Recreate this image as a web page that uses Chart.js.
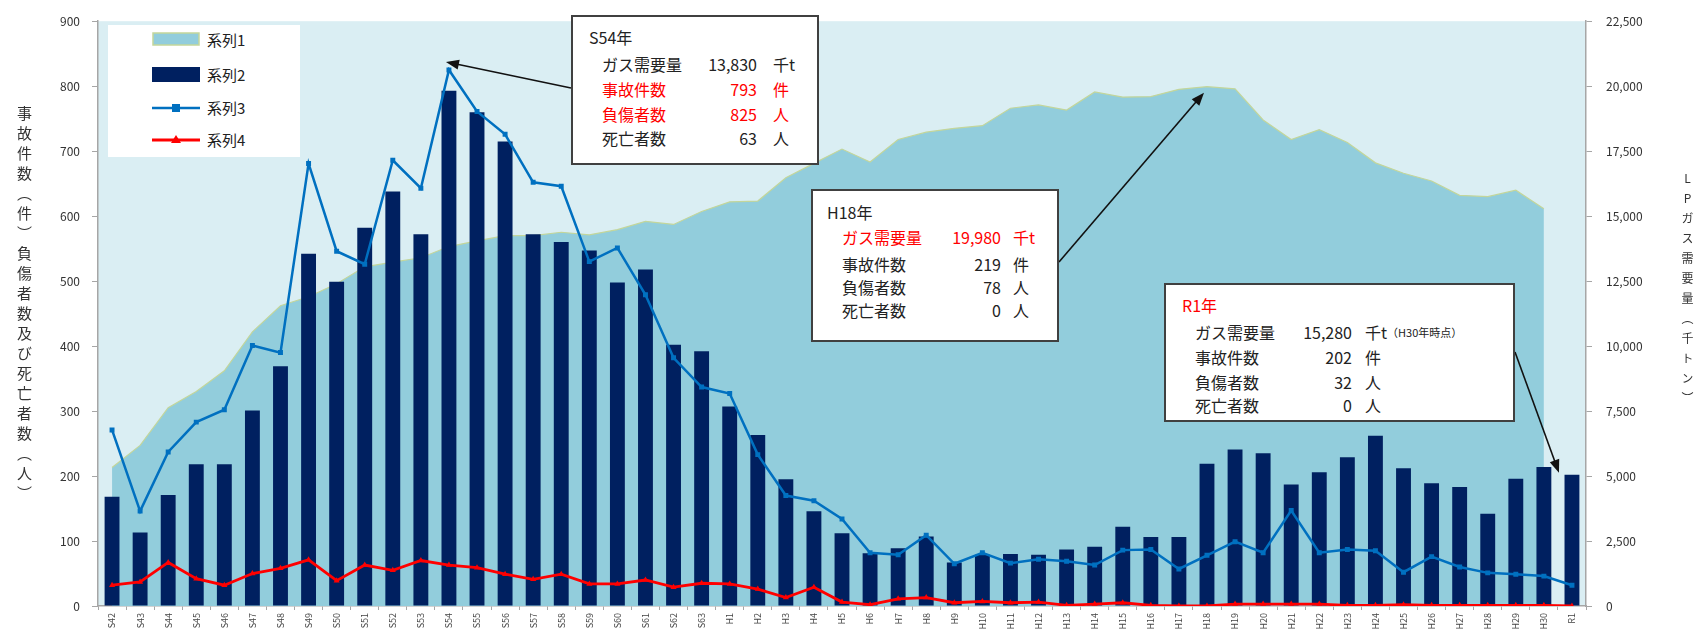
<!DOCTYPE html>
<html lang="ja">
<head>
  <meta charset="UTF-8" />
  <title>LPガス事故件数とガス需要量の推移</title>
  <script src="https://cdn.jsdelivr.net/npm/chart.js"></script>
  <style>
    html, body { margin: 0; padding: 0; background: #fff; }
    body { font-family: "Noto Sans CJK JP", "Noto Sans", sans-serif; color: #222; }
    #wrap { position: relative; width: 1696px; height: 641px; overflow: hidden; }
    #chart { position: absolute; left: 0; top: 0; }
    .vt { position: absolute; writing-mode: vertical-rl; text-orientation: upright; white-space: nowrap; color: #333; }
    .legend { position: absolute; left: 108px; top: 25px; width: 192px; height: 132px; background: #fff; }
    .legend .it { position: absolute; left: 44px; height: 20px; margin-top: -10px; font-size: 15px; line-height: 20px; }
    .legend svg { position: absolute; left: 0; top: 2px; }
    .legend span { position: absolute; left: 55px; white-space: nowrap; }
    .box { position: absolute; background: #fff; border: 2px solid #404040; box-sizing: border-box; font-size: 16px; }
    .box .r { position: absolute; left: 0; right: 0; height: 22px; margin-top: -11px; line-height: 22px; white-space: nowrap; }
    .box .r span { position: absolute; top: 0; }
    .box .v { left: 0; text-align: right; }
    .red { color: #ff0000; }
    .b1 .l { left: 29px; } .b1 .v { width: 184px; } .b1 .u { left: 200px; }
    .b2 .l { left: 29px; } .b2 .v { width: 188px; } .b2 .u { left: 200px; }
    .b3 .l { left: 29px; } .b3 .v { width: 186px; } .b3 .u { left: 199px; }
    .small { font-size: 11px; }
  </style>
</head>
<body>
<div id="wrap">
  <canvas id="chart" width="1696" height="641"></canvas>

  <div class="vt" style="left:14px; top:106px; font-size:15px; letter-spacing:5px;">事故件数（件）負傷者数及び死亡者数（人）</div>
  <div class="vt" style="left:1679px; top:172px; font-size:12px; letter-spacing:8px;">LPガス需要量（千トン）</div>

  <div class="legend">
    <div class="it" style="top:15px"><svg width="50" height="16"><rect x="1" y="1" width="46" height="12" fill="#92cddc" stroke="#c3d69b" stroke-width="1.5"/></svg><span>系列1</span></div>
    <div class="it" style="top:50px"><svg width="50" height="16"><rect x="0" y="0" width="48" height="15" fill="#002060"/></svg><span>系列2</span></div>
    <div class="it" style="top:83px"><svg width="50" height="16"><line x1="0" y1="8" x2="48" y2="8" stroke="#0070c0" stroke-width="2.5"/><rect x="20" y="4" width="8" height="8" fill="#0070c0"/></svg><span>系列3</span></div>
    <div class="it" style="top:115px"><svg width="50" height="16"><line x1="0" y1="8" x2="48" y2="8" stroke="#ff0000" stroke-width="3"/><polygon points="24,3 29,11 19,11" fill="#ff0000"/></svg><span>系列4</span></div>
  </div>

  <div class="box b1" style="left:571px; top:15px; width:248px; height:150px;">
    <div class="r" style="top:20px"><span style="left:16px">S54年</span></div>
    <div class="r" style="top:47px"><span class="l">ガス需要量</span><span class="v">13,830</span><span class="u">千t</span></div>
    <div class="r red" style="top:72px"><span class="l">事故件数</span><span class="v">793</span><span class="u">件</span></div>
    <div class="r red" style="top:97px"><span class="l">負傷者数</span><span class="v">825</span><span class="u">人</span></div>
    <div class="r" style="top:121px"><span class="l">死亡者数</span><span class="v">63</span><span class="u">人</span></div>
  </div>

  <div class="box b2" style="left:811px; top:189px; width:248px; height:153px;">
    <div class="r" style="top:21px"><span style="left:14px">H18年</span></div>
    <div class="r red" style="top:46px"><span class="l">ガス需要量</span><span class="v">19,980</span><span class="u">千t</span></div>
    <div class="r" style="top:73px"><span class="l">事故件数</span><span class="v">219</span><span class="u">件</span></div>
    <div class="r" style="top:96px"><span class="l">負傷者数</span><span class="v">78</span><span class="u">人</span></div>
    <div class="r" style="top:119px"><span class="l">死亡者数</span><span class="v">0</span><span class="u">人</span></div>
  </div>

  <div class="box b3" style="left:1164px; top:283px; width:351px; height:139px;">
    <div class="r red" style="top:20px"><span style="left:16px">R1年</span></div>
    <div class="r" style="top:47px"><span class="l">ガス需要量</span><span class="v">15,280</span><span class="u">千t<span class="small">（H30年時点）</span></span></div>
    <div class="r" style="top:72px"><span class="l">事故件数</span><span class="v">202</span><span class="u">件</span></div>
    <div class="r" style="top:97px"><span class="l">負傷者数</span><span class="v">32</span><span class="u">人</span></div>
    <div class="r" style="top:120px"><span class="l">死亡者数</span><span class="v">0</span><span class="u">人</span></div>
  </div>
</div>

<script>
  // 年（昭和42年〜令和元年）
  const years = [
    "S42","S43","S44","S45","S46","S47","S48","S49","S50","S51","S52","S53","S54","S55","S56","S57",
    "S58","S59","S60","S61","S62","S63","H1","H2","H3","H4","H5","H6","H7","H8","H9","H10","H11",
    "H12","H13","H14","H15","H16","H17","H18","H19","H20","H21","H22","H23","H24","H25","H26","H27",
    "H28","H29","H30","R1"
  ];

  // 事故件数（件）
  const accidents = [
    168,113,171,218,218,301,369,542,499,582,638,572,793,760,715,572,560,547,498,518,402,392,307,
    263,195,146,112,81,89,107,67,79,80,79,87,91,122,106,106,219,241,235,187,206,229,262,212,189,
    183,142,196,214,202
  ];

  // 負傷者数（人）
  const injuries = [
    271,146,237,283,302,401,390,681,546,526,686,643,825,761,726,652,646,530,551,479,382,337,327,
    233,170,162,134,82,79,109,65,82,66,72,69,63,86,87,57,78,99,82,147,82,87,85,52,76,60,51,49,46,32
  ];

  // 死亡者数（人）
  const deaths = [
    32,37,67,42,32,50,58,71,39,63,55,70,63,59,49,41,49,34,34,40,29,35,34,26,13,29,6,2,11,13,5,7,
    5,6,1,3,5,1,0,0,3,3,3,3,1,1,2,1,1,1,1,1,0
  ];

  // LPガス需要量（千トン）  R1は未集計
  const demand = [
    5330,6180,7630,8250,9050,10550,11550,11900,12400,13050,13230,13400,13830,14050,14250,14250,
    14380,14280,14480,14800,14680,15180,15550,15580,16480,17030,17580,17080,17950,18230,18380,
    18480,19150,19280,19080,19780,19580,19600,19880,19980,19900,18700,17950,18330,17830,17050,
    16650,16350,15800,15750,16000,15280,null
  ];

  const leftTicks = { min: 0, max: 900, step: 100 };
  const rightTicks = { min: 0, max: 22500, step: 2500 };

  // プロット背景
  const plotBg = {
    id: "plotBg",
    beforeDraw(chart) {
      const { ctx, chartArea: a } = chart;
      ctx.save();
      ctx.fillStyle = "#daeef3";
      ctx.fillRect(a.left, a.top, a.right - a.left, a.bottom - a.top);
      ctx.restore();
    }
  };

  function arrow(ctx, x1, y1, x2, y2) {
    const ang = Math.atan2(y2 - y1, x2 - x1);
    const len = 13, w = 5;
    ctx.beginPath();
    ctx.moveTo(x1, y1);
    ctx.lineTo(x2 - Math.cos(ang) * len * 0.8, y2 - Math.sin(ang) * len * 0.8);
    ctx.stroke();
    ctx.beginPath();
    ctx.moveTo(x2, y2);
    ctx.lineTo(x2 - Math.cos(ang) * len + Math.sin(ang) * w, y2 - Math.sin(ang) * len - Math.cos(ang) * w);
    ctx.lineTo(x2 - Math.cos(ang) * len - Math.sin(ang) * w, y2 - Math.sin(ang) * len + Math.cos(ang) * w);
    ctx.closePath();
    ctx.fill();
  }

  // 吹き出しの矢印
  const arrows = {
    id: "arrows",
    afterDatasetsDraw(chart) {
      const { ctx, scales } = chart;
      const x = i => scales.x.getPixelForValue(i);
      ctx.save();
      ctx.strokeStyle = "#111";
      ctx.fillStyle = "#111";
      ctx.lineWidth = 1.6;
      arrow(ctx, 571, 88, x(12) - 3, scales.y.getPixelForValue(injuries[12]) - 8);
      arrow(ctx, 1059, 262, x(39) - 3, scales.y2.getPixelForValue(demand[39]) + 6);
      arrow(ctx, 1515, 352, x(52) - 13, scales.y.getPixelForValue(accidents[52]) - 2);
      ctx.restore();
    }
  };

  const tickFont = { family: "'Noto Sans CJK JP', sans-serif", size: 12 };

  new Chart(document.getElementById("chart").getContext("2d"), {
    type: "bar",
    data: {
      labels: years,
      datasets: [
        {
          type: "line", label: "系列1", data: demand, yAxisID: "y2", order: 4,
          borderColor: "#c3d69b", borderWidth: 1.2, backgroundColor: "#92cddc",
          fill: "origin", pointRadius: 0, tension: 0
        },
        {
          type: "bar", label: "系列2", data: accidents, yAxisID: "y", order: 3,
          backgroundColor: "#002060", barPercentage: 0.53, categoryPercentage: 1.0
        },
        {
          type: "line", label: "系列3", data: injuries, yAxisID: "y", order: 2,
          borderColor: "#0070c0", borderWidth: 2.5, backgroundColor: "#0070c0",
          pointStyle: "rect", pointRadius: 3.5, pointBackgroundColor: "#0070c0", pointBorderWidth: 0, tension: 0
        },
        {
          type: "line", label: "系列4", data: deaths, yAxisID: "y", order: 1,
          borderColor: "#ff0000", borderWidth: 2.8, backgroundColor: "#ff0000",
          pointStyle: "triangle", pointRadius: 3.5, pointBackgroundColor: "#ff0000", pointBorderWidth: 0, tension: 0
        }
      ]
    },
    options: {
      responsive: false,
      animation: false,
      layout: { padding: { top: 18, left: 0, right: 0, bottom: 0 } },
      plugins: { legend: { display: false }, tooltip: { enabled: false } },
      scales: {
        x: {
          offset: true,
          afterFit: s => { s.height = 35; },
          grid: { drawOnChartArea: false, tickLength: 4, color: "#a6a6a6" },
          border: { color: "#a6a6a6", width: 1.5 },
          ticks: { autoSkip: false, minRotation: 90, maxRotation: 90, padding: 3, color: "#444", font: { family: tickFont.family, size: 9 } }
        },
        y: {
          position: "left",
          min: leftTicks.min, max: leftTicks.max,
          afterFit: s => { s.width = 98; },
          grid: { drawOnChartArea: false, tickLength: 6, color: "#a6a6a6" },
          border: { color: "#a6a6a6", width: 1.5 },
          ticks: { stepSize: leftTicks.step, padding: 12, color: "#333", font: tickFont }
        },
        y2: {
          position: "right",
          min: rightTicks.min, max: rightTicks.max,
          afterFit: s => { s.width = 110; },
          grid: { drawOnChartArea: false, tickLength: 6, color: "#a6a6a6" },
          border: { color: "#a6a6a6", width: 1.5 },
          ticks: { stepSize: rightTicks.step, padding: 14, color: "#333", font: tickFont }
        }
      }
    },
    plugins: [plotBg, arrows]
  });
</script>
</body>
</html>
